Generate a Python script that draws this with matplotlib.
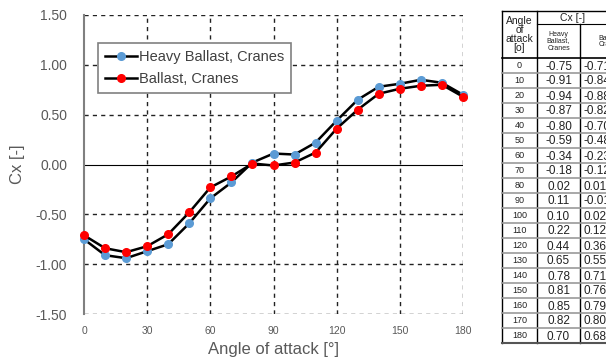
import matplotlib.pyplot as plt
from matplotlib.lines import Line2D

plt.rcParams["font.family"] = ["Liberation Sans", "DejaVu Sans"]

# ── DATA ──────────────────────────────────────────────────
angles = [0, 10, 20, 30, 40, 50, 60, 70, 80, 90,
          100, 110, 120, 130, 140, 150, 160, 170, 180]
cx_heavy = [-0.75, -0.91, -0.94, -0.87, -0.80, -0.59, -0.34, -0.18, 0.02, 0.11,
            0.10, 0.22, 0.44, 0.65, 0.78, 0.81, 0.85, 0.82, 0.70]
cx_ballast = [-0.71, -0.84, -0.88, -0.82, -0.70, -0.48, -0.23, -0.12, 0.01, -0.01,
              0.02, 0.12, 0.36, 0.55, 0.71, 0.76, 0.79, 0.80, 0.68]
x_ticks = [0, 30, 60, 90, 120, 150, 180]
y_ticks = [-1.5, -1.0, -0.5, 0.0, 0.5, 1.0, 1.5]

W, H = 606, 359
fig = plt.figure(figsize=(W / 100, H / 100), dpi=100)
grey = "#595959"

# ── CHART ─────────────────────────────────────────────────
ax = fig.add_axes([84 / W, 1 - 314 / H, 379 / W, 299 / H])
ax.set_xlim(0, 180)
ax.set_ylim(-1.5, 1.5)
ax.set_xticks(x_ticks)
ax.set_yticks(y_ticks)
ax.set_yticklabels([f"{v:.2f}" for v in y_ticks])
ax.tick_params(axis="x", length=0, labelsize=7.5, colors=grey, pad=9)
ax.tick_params(axis="y", length=0, labelsize=10, colors=grey, pad=12)

for s in ["top", "right", "bottom"]:
    ax.spines[s].set_visible(False)
ax.spines["left"].set_color("#808080")
ax.spines["left"].set_linewidth(1.5)

for x in x_ticks[1:]:
    ax.axvline(x, color="#222222", lw=1, ls=(0, (3, 3)), zorder=1)
for y in y_ticks:
    if y != 0:
        ax.axhline(y, color="#222222", lw=1, ls=(0, (3, 3)), zorder=1)
ax.axhline(0, color="black", lw=0.8, zorder=1)

ax.plot(angles, cx_heavy, color="black", lw=1.8, marker="o", ms=5.5,
        mfc="#5B9BD5", mec="#5B9BD5", label="Heavy Ballast, Cranes", zorder=3,
        clip_on=False)
ax.plot(angles, cx_ballast, color="black", lw=1.8, marker="o", ms=5.5,
        mfc="#FF0000", mec="#FF0000", label="Ballast, Cranes", zorder=4,
        clip_on=False)

ax.set_xlabel("Angle of attack [°]", fontsize=12, color=grey, labelpad=4)
ax.set_ylabel("Cx [-]", fontsize=12, color=grey, labelpad=8)

leg = ax.legend(loc="upper left", bbox_to_anchor=(0.037, 0.906), borderaxespad=0,
                fontsize=10.5, fancybox=False, edgecolor="#808080", framealpha=1,
                handlelength=2.2, handletextpad=0.1, borderpad=0.5, labelspacing=0.5)
for t in leg.get_texts():
    t.set_color("#404040")
leg.get_frame().set_linewidth(1.2)

# ── TABLE ─────────────────────────────────────────────────
tx = fig.add_axes([0, 0, 1, 1])
tx.set_xlim(0, W)
tx.set_ylim(H, 0)
tx.axis("off")

left, c1, c2, c3 = 502, 537, 580, 640
top, sub, head = 11, 24, 58
row_h = 15.0
n = len(angles)
bottom = head + n * row_h

# outer frame and column rules
tx.add_line(Line2D([left, c3], [top, top], color="black", lw=1))
tx.add_line(Line2D([left, left], [top, bottom], color="black", lw=1))
tx.add_line(Line2D([c1, c1], [top, bottom], color="black", lw=1))
tx.add_line(Line2D([c2, c2], [sub, bottom], color="black", lw=1))
tx.add_line(Line2D([c1, c3], [sub, sub], color="black", lw=0.8))
tx.add_line(Line2D([left, c3], [head, head], color="black", lw=1.2))
tx.add_line(Line2D([left, c3], [bottom, bottom], color="#555555", lw=1.5))
for i in range(1, n):
    y = head + i * row_h
    tx.add_line(Line2D([left, c3], [y, y], color="#9a9a9a", lw=1.2))

tx.text((left + c1) / 2, (top + head) / 2, "Angle\nof\nattack\n[o]", ha="center",
        va="center", fontsize=7.5, linespacing=0.9, color="#222222")
tx.text((c1 + c2) / 2 + 14, (top + sub) / 2 + 0.5, "Cx [-]", ha="center",
        va="center", fontsize=7.5, color="#222222")
tx.text((c1 + c2) / 2, (sub + head) / 2, "Heavy\nBallast,\nCranes", ha="center",
        va="center", fontsize=5, linespacing=1.0, color="#222222")
tx.text((c2 + c3) / 2, (sub + head) / 2, "Ballast,\nCranes", ha="center",
        va="center", fontsize=5, linespacing=1.0, color="#222222")

for i, a in enumerate(angles):
    y = head + (i + 0.5) * row_h
    tx.text((left + c1) / 2, y, str(a), ha="center", va="center", fontsize=6.5,
            color="#222222")
    tx.text((c1 + c2) / 2, y + 1, f"{cx_heavy[i]:.2f}", ha="center", va="center",
            fontsize=8.5, color="#222222")
    tx.text(c2 + 3, y + 1, f"{cx_ballast[i]:.2f}", ha="left", va="center",
            fontsize=8.5, color="#222222")

fig.savefig("out.png", dpi=100)
